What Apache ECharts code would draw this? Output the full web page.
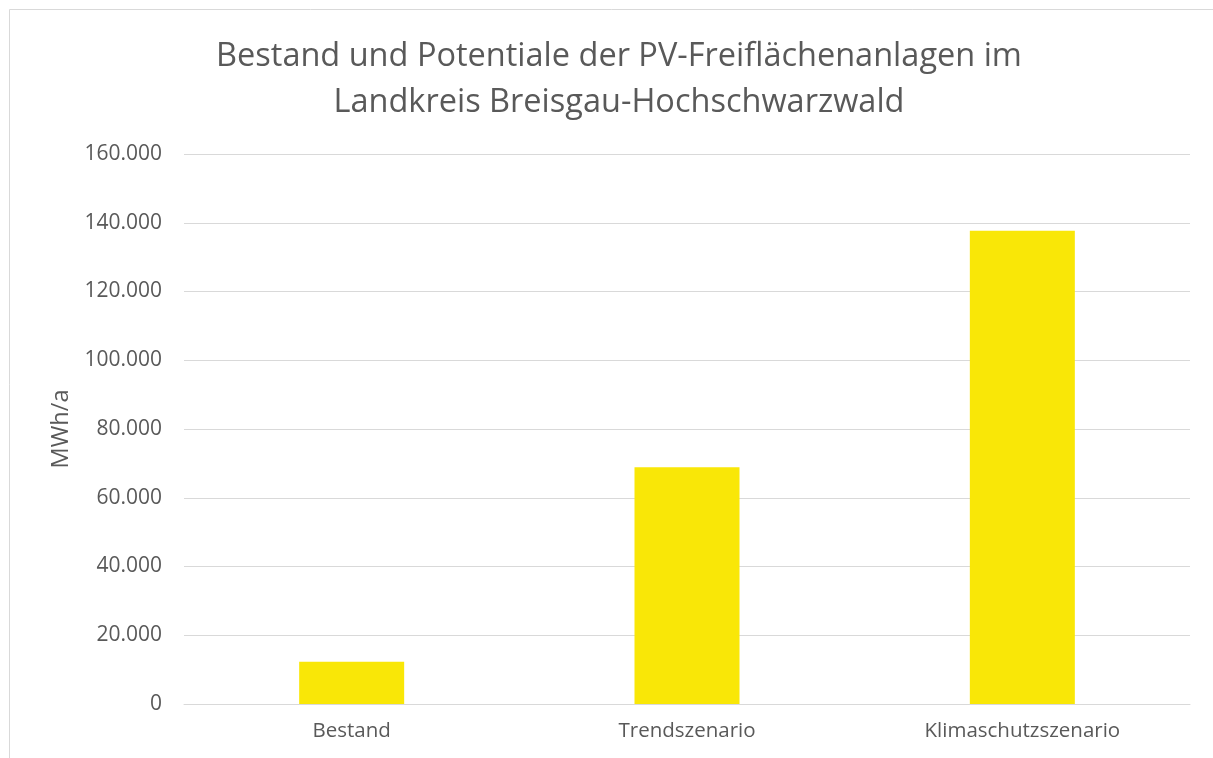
<!DOCTYPE html>
<html>
<head>
<meta charset="utf-8">
<script src="https://cdn.jsdelivr.net/npm/echarts@6/dist/echarts.min.js"></script>
<style>
  html, body { margin: 0; padding: 0; background: #fff; }
  #chart { width: 1213px; height: 758px; }
</style>
</head>
<body>
<div id="chart"></div>
<script>
// Daten
const titleText = 'Bestand und Potentiale der PV-Freiflächenanlagen im\nLandkreis Breisgau-Hochschwarzwald';
const categories = ['Bestand', 'Trendszenario', 'Klimaschutzszenario'];
const values = [12300, 68900, 137700];
const yMin = 0;
const yMax = 160000;
const yStep = 20000;
const yName = 'MWh/a';

const textColor = '#595959';
const gridColor = '#d9d9d9';
const barColor = '#F9E707';

// Tausendertrennzeichen mit Punkt
function formatDe(v) {
    return String(v).replace(/\B(?=(\d{3})+(?!\d))/g, '.');
}

const chart = echarts.init(document.getElementById('chart'));

const option = {
    backgroundColor: '#fff',
    animation: false,
    textStyle: { fontFamily: 'Open Sans' },
    title: {
        text: titleText,
        left: 614,
        textAlign: 'center',
        top: 29,
        textStyle: {
            color: textColor,
            fontSize: 32.5,
            fontWeight: 'normal',
            lineHeight: 46,
            fontFamily: 'Open Sans'
        }
    },
    // Rahmen (rechts und unten abgeschnitten wie im Original)
    graphic: [{
        type: 'rect',
        shape: { x: 9.5, y: 9.5, width: 1300, height: 800 },
        style: { fill: 'none', stroke: gridColor, lineWidth: 1 },
        silent: true
    }],
    grid: { left: 184, right: 23, top: 154, bottom: 54 },
    xAxis: {
        type: 'category',
        data: categories,
        axisLine: { lineStyle: { color: gridColor, width: 1 } },
        axisTick: { show: false },
        axisLabel: { color: textColor, fontSize: 20.5, margin: 17 }
    },
    yAxis: {
        type: 'value',
        min: yMin,
        max: yMax,
        interval: yStep,
        name: yName,
        nameLocation: 'middle',
        nameGap: 111,
        nameTextStyle: { color: textColor, fontSize: 23.5 },
        axisLine: { show: false },
        axisTick: { show: false },
        splitLine: { lineStyle: { color: gridColor, width: 1 } },
        axisLabel: { color: textColor, fontSize: 21, margin: 22, formatter: formatDe }
    },
    series: [{
        type: 'bar',
        data: values,
        barWidth: 105,
        itemStyle: { color: barColor }
    }]
};

chart.setOption(option);
</script>
</body>
</html>
